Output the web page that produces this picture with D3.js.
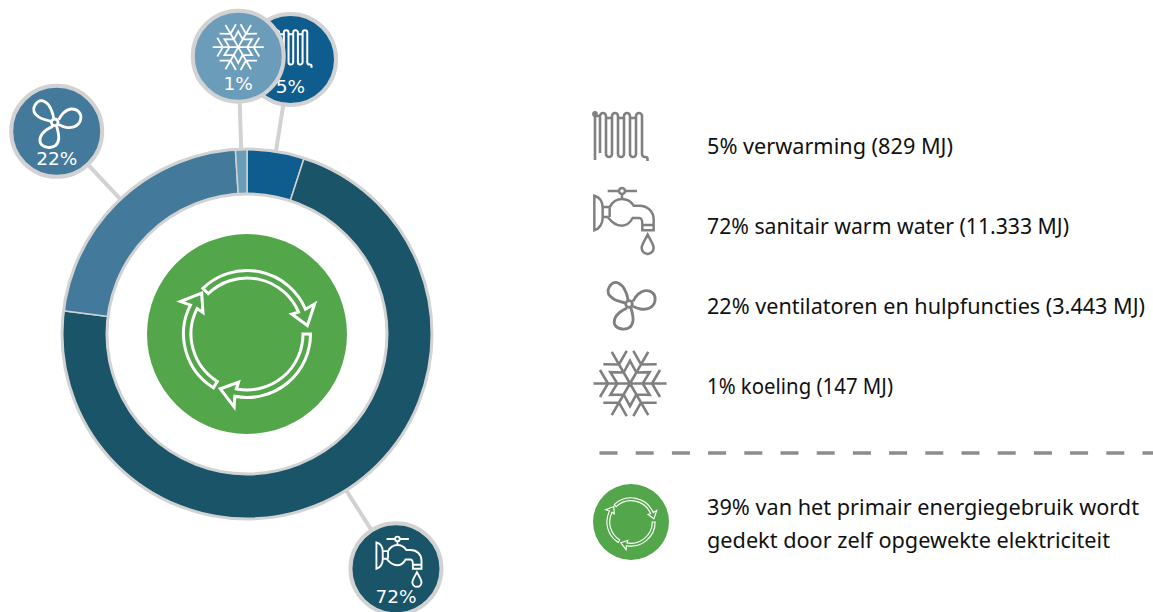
<!DOCTYPE html>
<html>
<head>
<meta charset="utf-8">
<script src="https://cdn.jsdelivr.net/npm/d3@7"></script>
<style>
  body { margin: 0; background: #fff; overflow: hidden; }
  svg { display: block; }
  text { font-family: "Noto Sans", sans-serif; }
</style>
</head>
<body>
<svg id="chart" width="1153" height="612"></svg>
<script>
// energy use per function
const categories = ["verwarming", "sanitair warm water", "ventilatoren en hulpfuncties", "koeling"];
const iconNames = ["radiator", "tap", "fan", "snow"];
const energyMJ = [829, 11333, 3443, 147];
const percentages = [5, 72, 22, 1];
const sliceColors = ["#0f5d8f", "#195468", "#437a9c", "#6b9dbb"];
const noteLines = ["39% van het primair energiegebruik wordt", "gedekt door zelf opgewekte elektriciteit"];

const GREY = "#808080";
const RING_GREY = "#d2d2d2";
const GREEN = "#53a74a";

const svg = d3.select("#chart");
const cx = 247, cy = 334;
const outerR = 185, innerR = 140;
const bubbleDist = 278, bubbleR = 45.5;

const nlLocale = d3.formatLocale({ decimal: ",", thousands: ".", grouping: [3], currency: ["", ""] });
const fmt = nlLocale.format(",d");

/* icons, drawn around their own centre */
const radPath = (() => {
    const p = d3.path();
    const xs = [-20.5, -14.5, -8.5, -2.5, 3.5, 9.5, 15.5, 21.5];
    const top = -22, bot = 22, rr = 3;
    p.moveTo(xs[0], bot - 4);
    xs.forEach((x, i) => {
        if (i === 7) return;
        const nx = xs[i + 1];
        if (i % 2 === 0) {
            p.lineTo(x, top + rr);
            p.arc((x + nx) / 2, top + rr, rr, Math.PI, 0);
        } else {
            p.lineTo(x, bot - rr);
            p.arc((x + nx) / 2, bot - rr, rr, Math.PI, 0, true);
        }
    });
    p.lineTo(21.5, bot - rr);
    p.arc(24.5, bot - rr, 3, Math.PI, Math.PI / 2, true);
    p.lineTo(25, bot);
    p.arc(25, bot + 2, 2, -Math.PI / 2, 0);
    p.lineTo(27, bot + 4);
    // connecting rod and valve
    p.moveTo(-25.5, 25); p.lineTo(-25.5, -21);
    p.moveTo(-25.5, -19); p.lineTo(-20.5, -19);
    p.moveTo(-14.5, -17); p.lineTo(-8.5, -17);
    p.moveTo(-2.5, -17); p.lineTo(3.5, -17);
    p.moveTo(9.5, -17); p.lineTo(15.5, -17);
    return p.toString();
})();

// tap and fan were traced at 3x, hence the scale(1/3) on their groups
const tapPath = "M40,288C55,292 65,305 65,325L65,355C65,372 55,388 40,392Z" +
    "M65,322H86C95,305 110,298 123,298C140,298 150,305 158,318H175C200,318 218,335 218,360V392H184V375C184,360 182,355 175,355H155C148,368 138,378 122,378C105,378 92,368 80,352H65" +
    "M184,376H218M86,322V352" +
    "M123,285V298M114,274A9,9 0 1 0 132,274A9,9 0 1 0 114,274M80,274H114M132,274H168" +
    "M200,405C190,425 182,435 182,445A18,18 0 0 0 218,445C218,435 210,425 200,405Z";

const fanBlades = [
    [[143, 88], [138, 68], [125, 45], [105, 35], [87, 48], [84, 68], [100, 85], [135, 97]],
    [[158, 92], [172, 72], [195, 60], [218, 68], [224, 90], [208, 112], [180, 115], [156, 106]],
    [[140, 112], [118, 125], [103, 145], [105, 165], [125, 175], [148, 170], [158, 150], [152, 112]]
];
const bladeLine = d3.line().curve(d3.curveCatmullRom.alpha(0.5));
const fanPath = fanBlades.map(b => bladeLine(b)).join("") +
    "M136,100A10,10 0 1 0 156,100A10,10 0 1 0 136,100";

const snowPath = (() => {
    const p = d3.path();
    const at = (deg, along, side) => {
        const a = deg * Math.PI / 180;
        return [along * Math.cos(a) - side * Math.sin(a), along * Math.sin(a) + side * Math.cos(a)];
    };
    d3.range(6).forEach(i => {
        const deg = i * 60;
        p.moveTo(0, 0); p.lineTo(...at(deg, 36.5, 0));
        [1, -1].forEach(s => {
            p.moveTo(...at(deg, 22, 0)); p.lineTo(...at(deg, 30, s * 13.5));
        });
    });
    d3.range(12).forEach(i => {
        const pt = at(i * 30, i % 2 === 0 ? 12.7 : 22.7, 0);
        if (i === 0) p.moveTo(...pt); else p.lineTo(...pt);
    });
    p.closePath();
    return p.toString();
})();

const iconDraw = {
    radiator: g => {
        g.append("path").attr("d", radPath);
        g.append("circle").attr("cx", -25.5).attr("cy", -21).attr("r", 1.6).attr("fill", "currentColor");
    },
    tap: g => g.append("g").attr("transform", "scale(0.3333) translate(-129,-364)").append("path")
        .attr("d", tapPath).attr("stroke-width", 7.5),
    fan: g => g.append("g").attr("transform", "scale(0.3333) translate(-152,-103)").append("path")
        .attr("d", fanPath).attr("stroke-width", 8.5),
    snow: g => g.append("path").attr("d", snowPath)
};

function drawIcon(parent, name, x, y, k, color) {
    const g = parent.append("g")
        .attr("transform", `translate(${x},${y}) scale(${k})`)
        .style("color", color)
        .attr("fill", "none")
        .attr("stroke", color)
        .attr("stroke-width", 2.6);
    iconDraw[name](g);
}

/* circular arrows in the green disc: [start, tip] in degrees from the top */
const arrowSpans = [[-44, 82], [90, 206], [212, 312]];

function arrowPath(span) {
    const rad = d => d * Math.PI / 180;
    const pt = (deg, r) => d3.pointRadial(rad(deg), r);
    const [a, tip] = span;
    const neck = tip - 15;
    const p = d3.path();
    p.arc(0, 0, 63.5, rad(a) - Math.PI / 2, rad(neck) - Math.PI / 2);
    p.lineTo(...pt(neck - 1, 74));
    p.lineTo(...pt(tip, 61));
    p.lineTo(...pt(neck - 1, 49));
    p.lineTo(...pt(neck, 56));
    p.arc(0, 0, 56, rad(neck) - Math.PI / 2, rad(a) - Math.PI / 2, true);
    p.closePath();
    return p.toString();
}

function drawRecycle(parent, x, y, r, k, sw) {
    parent.append("circle").attr("cx", x).attr("cy", y).attr("r", r).attr("fill", GREEN);
    parent.append("g")
        .attr("transform", `translate(${x},${y}) scale(${k})`)
        .selectAll("path")
        .data(arrowSpans)
        .enter()
        .append("path")
        .attr("d", arrowPath)
        .attr("fill", "none")
        .attr("stroke", "#fff")
        .attr("stroke-width", sw);
}

/* donut, sliced on the rounded percentages */
const pie = d3.pie().sort(null).value(d => d);
const arcs = pie(percentages);
const arcGen = d3.arc().innerRadius(innerR).outerRadius(outerR);
const midAngle = d => (d.startAngle + d.endAngle) / 2;

const ring = svg.append("g").attr("transform", `translate(${cx},${cy})`);

// leader lines go under everything
ring.selectAll("line")
    .data(arcs)
    .enter()
    .append("line")
    .attr("x1", d => d3.pointRadial(midAngle(d), outerR)[0])
    .attr("y1", d => d3.pointRadial(midAngle(d), outerR)[1])
    .attr("x2", d => d3.pointRadial(midAngle(d), bubbleDist)[0])
    .attr("y2", d => d3.pointRadial(midAngle(d), bubbleDist)[1])
    .attr("stroke", RING_GREY)
    .attr("stroke-width", 4);

ring.selectAll("path")
    .data(arcs)
    .enter()
    .append("path")
    .attr("d", arcGen)
    .attr("fill", (d, i) => sliceColors[i])
    .attr("stroke", RING_GREY)
    .attr("stroke-width", 1.5);

[outerR, innerR].forEach(r => {
    ring.append("circle").attr("r", r).attr("fill", "none")
        .attr("stroke", RING_GREY).attr("stroke-width", 3);
});

drawRecycle(svg, cx, cy, 100, 1, 3);

/* bubbles */
const iconOffset = { radiator: [0, -12], tap: [3, -7], fan: [0, -8], snow: [0, -9] };
const iconScale = { radiator: 0.78, tap: 0.76, fan: 1, snow: 0.7 };

arcs.forEach((d, i) => {
    const [bx, by] = d3.pointRadial(midAngle(d), bubbleDist);
    const g = svg.append("g").attr("transform", `translate(${cx + bx},${cy + by})`);
    g.append("circle").attr("r", bubbleR)
        .attr("fill", sliceColors[i])
        .attr("stroke", RING_GREY)
        .attr("stroke-width", 4);
    const name = iconNames[i];
    drawIcon(g, name, iconOffset[name][0], iconOffset[name][1], iconScale[name], "#fff");
    g.append("text")
        .attr("y", 34)
        .attr("text-anchor", "middle")
        .attr("fill", "#fff")
        .attr("font-size", 18.5)
        .style("font-family", "DejaVu Sans")
        .text(percentages[i] + "%");
});

/* legend */
const legendIconX = [620.5, 624, 631, 630];
const legendIconY = [135, 221, 305, 383.5];
const legendBase = d3.scalePoint().domain(categories).range([153.5, 393.5]);
// Noto's digits run wider than the original font, so squeeze each row to its measured width
const rowWidths = [246, 362, 438, 186];
const noteWidths = [432, 403];

categories.forEach((c, i) => {
    drawIcon(svg, iconNames[i], legendIconX[i], legendIconY[i], 1, GREY);
    svg.append("text")
        .attr("x", 707)
        .attr("y", legendBase(c))
        .attr("font-size", 21.6)
        .attr("fill", "#111")
        .attr("textLength", rowWidths[i])
        .attr("lengthAdjust", "spacingAndGlyphs")
        .text(`${percentages[i]}% ${c} (${fmt(energyMJ[i])} MJ)`);
});

svg.append("line")
    .attr("x1", 599.5).attr("x2", 1153)
    .attr("y1", 453).attr("y2", 453)
    .attr("stroke", "#8c8c8c")
    .attr("stroke-width", 3.5)
    .attr("stroke-dasharray", "18 18.2");

drawRecycle(svg, 631, 522, 38, 0.38, 3);

noteLines.forEach((t, i) => {
    svg.append("text")
        .attr("x", 707)
        .attr("y", 515 + i * 32.5)
        .attr("font-size", 21.6)
        .attr("fill", "#111")
        .attr("textLength", noteWidths[i])
        .attr("lengthAdjust", "spacingAndGlyphs")
        .text(t);
});
</script>
</body>
</html>
